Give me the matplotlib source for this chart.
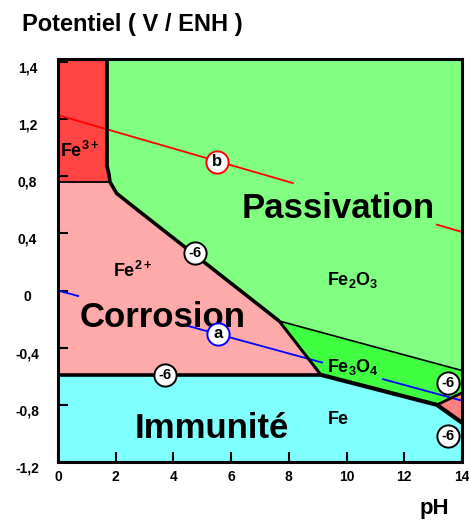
import matplotlib
matplotlib.use("Agg")
import matplotlib.pyplot as plt
from matplotlib.transforms import ScaledTranslation

plt.rcParams["font.family"] = "Liberation Sans"
plt.rcParams["font.weight"] = "bold"
plt.rcParams["mathtext.fontset"] = "custom"
plt.rcParams["mathtext.rm"] = "Liberation Sans:bold"
plt.rcParams["mathtext.it"] = "Liberation Sans:bold"
plt.rcParams["mathtext.bf"] = "Liberation Sans:bold"
plt.rcParams["mathtext.default"] = "rm"

# axis range and ticks (top label reads 1,4 in the original)
ph_min, ph_max = 0, 14
e_min, e_max = -1.2, 1.62
x_ticks = [0, 2, 4, 6, 8, 10, 12, 14]
y_ticks = [-1.2, -0.8, -0.4, 0, 0.4, 0.8, 1.2, 1.6]
y_labels = ["-1,2", "-0,8", "-0,4", "0", "0,4", "0,8", "1,2", "1,4"]

# Fe3+ / oxide boundary, vertical then bending into the Fe2+ / Fe2O3 line
ox_ph = [1.70, 1.70, 1.77, 1.80, 2.03, 2.61, 7.66]
ox_E = [1.62, 0.87, 0.81, 0.76, 0.68, 0.587, -0.213]

fe3_fe2_E = 0.76      # Fe3+ / Fe2+
fe2_fe_E = -0.59      # Fe2+ / Fe
# triple points
t_ox = (7.66, -0.213)   # Fe2+ / Fe2O3 / Fe3O4
t_fe = (9.11, -0.59)    # Fe2+ / Fe3O4 / Fe
t_hf = (13.13, -0.80)   # Fe3O4 / Fe / HFeO2-
# values on the right edge (pH 14)
r_fe2o3 = -0.56
r_fe3o4 = -0.716
r_fe = -0.925

# water lines a and b, with the visible stretches
a_ph = [0, 14]
a_E = [0.0, -0.771]
a_visible = [(0, 0.7), (4.5, 9.15), (11.26, 14)]
b_ph = [0, 14]
b_E = [1.227, 0.41]
b_visible = [(0, 8.14), (13.13, 14)]

# circled labels
six_ph = [4.75, 3.71, 13.52, 13.52]
six_E = [0.261, -0.59, -0.648, -1.02]

c_fe3 = "#ff4444"
c_fe2 = "#ffaaaa"
c_fe2o3 = "#80ff80"
c_fe3o4 = "#40ff40"
c_fe = "#80ffff"
c_hf = "#ff8080"

fig = plt.figure(figsize=(4.69, 5.2), dpi=100)
ax = fig.add_axes([58 / 469, 58 / 520, 404 / 469, 403 / 520])
ax.set_facecolor(c_fe2o3)

# regions
ax.fill([0, ox_ph[3], ox_ph[2], ox_ph[1], ox_ph[0], 0],
        [fe3_fe2_E, fe3_fe2_E, ox_E[2], ox_E[1], ox_E[0], e_max],
        color=c_fe3, lw=0, zorder=1)
ax.fill([0] + ox_ph[3:] + [t_fe[0], 0],
        [fe3_fe2_E] + ox_E[3:] + [t_fe[1], fe2_fe_E],
        color=c_fe2, lw=0, zorder=1)
ax.fill([t_ox[0], ph_max, ph_max, t_hf[0], t_fe[0]],
        [t_ox[1], r_fe2o3, r_fe3o4, t_hf[1], t_fe[1]],
        color=c_fe3o4, lw=0, zorder=1)
ax.fill([0, t_fe[0], t_hf[0], ph_max, ph_max, 0],
        [fe2_fe_E, t_fe[1], t_hf[1], r_fe, e_min, e_min],
        color=c_fe, lw=0, zorder=1)
ax.fill([t_hf[0], ph_max, ph_max], [t_hf[1], r_fe3o4, r_fe],
        color=c_hf, lw=0, zorder=1)


def stretch(xs, ys, lo, hi):
    k = (ys[1] - ys[0]) / (xs[1] - xs[0])
    return [lo, hi], [ys[0] + k * (lo - xs[0]), ys[0] + k * (hi - xs[0])]


for lo, hi in a_visible:
    sx, sy = stretch(a_ph, a_E, lo, hi)
    ax.plot(sx, sy, color="#0000ff", lw=1.3, zorder=2)
for lo, hi in b_visible:
    sx, sy = stretch(b_ph, b_E, lo, hi)
    ax.plot(sx, sy, color="#ff0000", lw=1.3, zorder=2)

# boundaries
k = dict(color="black", solid_capstyle="butt", zorder=4)
ax.plot(ox_ph, ox_E, lw=2.6, **k)
ax.plot([0, ox_ph[3]], [fe3_fe2_E, fe3_fe2_E], lw=1.3, **k)
ax.plot([0, t_fe[0]], [fe2_fe_E, t_fe[1]], lw=2.6, **k)
ax.plot([t_ox[0], t_fe[0]], [t_ox[1], t_fe[1]], lw=2.2, **k)
ax.plot([t_ox[0], ph_max], [t_ox[1], r_fe2o3], lw=1.2, **k)
ax.plot([t_fe[0], t_hf[0], ph_max], [t_fe[1], t_hf[1], r_fe], lw=3.0, **k)
ax.plot([t_hf[0], ph_max], [t_hf[1], r_fe3o4], lw=2.0, **k)

# circles
ax.plot(six_ph, six_E, "o", ms=16, mfc="white", mec="black", mew=1.4, zorder=5)
for x, y in zip(six_ph, six_E):
    ax.text(x, y, "-6", ha="center", va="center", fontsize=10.5, zorder=6)
ax.plot([5.52], [0.901], "o", ms=16, mfc="white", mec="#ff0000", mew=1.4, zorder=5)
ax.text(5.52, 0.901, "b", ha="center", va="center", fontsize=12, zorder=6)
ax.plot([5.56], [-0.303], "o", ms=16, mfc="white", mec="#0000ff", mew=1.4, zorder=5)
ax.text(5.56, -0.303, "a", ha="center", va="center", fontsize=12, zorder=6)

# labels
ax.text(9.72, 0.508, "Passivation", ha="center", va="baseline", fontsize=25, zorder=3)
ax.text(3.64, -0.255, "Corrosion", ha="center", va="baseline", fontsize=25, zorder=3)
ax.text(5.32, -1.032, "Immunité", ha="center", va="baseline", fontsize=25, zorder=3)
ax.text(0.07, 0.934, "Fe$^{3+}$", ha="left", va="baseline", fontsize=13, zorder=3)
ax.text(1.91, 0.095, "Fe$^{2+}$", ha="left", va="baseline", fontsize=13, zorder=3)
ax.text(9.32, 0.039, "Fe$_2$O$_3$", ha="left", va="baseline", fontsize=13, zorder=3)
ax.text(9.32, -0.569, "Fe$_3$O$_4$", ha="left", va="baseline", fontsize=13, zorder=3)
ax.text(9.36, -0.933, "Fe", ha="left", va="baseline", fontsize=13, zorder=3)

ax.set_xlim(ph_min, ph_max)
ax.set_ylim(e_min, e_max)
ax.set_xticks(x_ticks)
ax.set_xticklabels([str(t) for t in x_ticks])
ax.set_yticks(y_ticks)
ax.set_yticklabels(y_labels)
ax.tick_params(direction="in", length=7, width=1.5, labelsize=10, color="black")
ax.tick_params(axis="x", pad=6)
ax.tick_params(axis="y", pad=22)
for lbl in ax.get_yticklabels():
    lbl.set_horizontalalignment("center")
    lbl.set_transform(lbl.get_transform() + ScaledTranslation(0, -0.05, fig.dpi_scale_trans))
for s in ax.spines.values():
    s.set_linewidth(2.2)
    s.set_zorder(7)

fig.text(22 / 469, 1 - 31 / 520, "Potentiel ( V / ENH )", fontsize=17, ha="left", va="baseline")
fig.text(420 / 469, 1 - 514 / 520, "pH", fontsize=16, ha="left", va="baseline")

fig.savefig("out.png", dpi=100)
